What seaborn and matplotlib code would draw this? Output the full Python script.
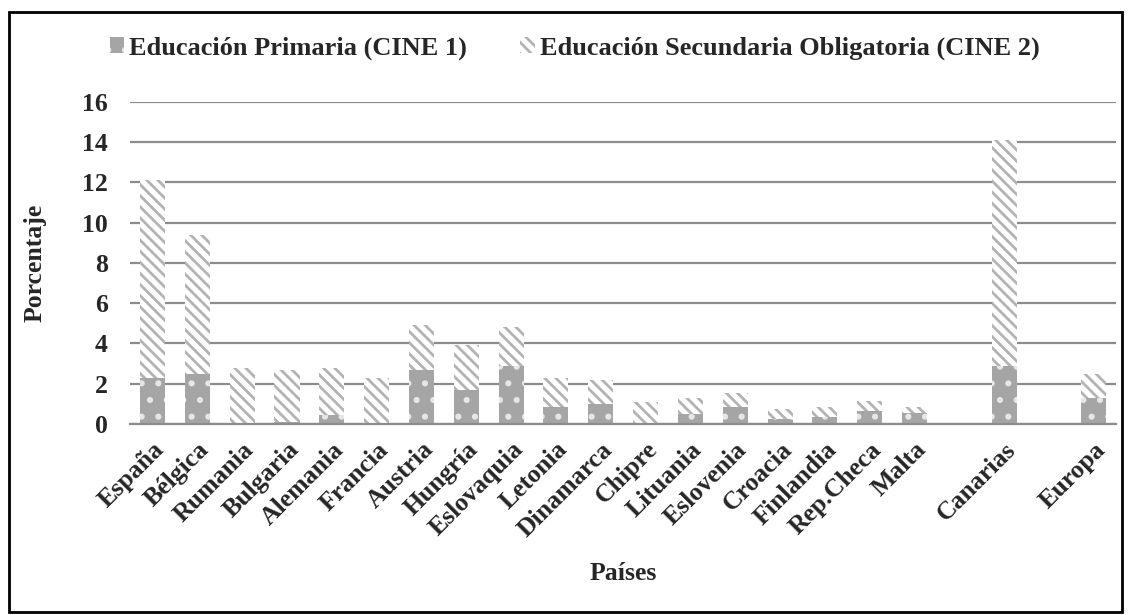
import seaborn as sns
import pandas as pd
import matplotlib.pyplot as plt
from matplotlib.patches import Patch, Rectangle

countries = ["España", "Bélgica", "Rumania", "Bulgaria", "Alemania", "Francia", "Austria",
             "Hungría", "Eslovaquia", "Letonia", "Dinamarca", "Chipre", "Lituania", "Eslovenia",
             "Croacia", "Finlandia", "Rep.Checa", "Malta", "Canarias", "Europa"]
primaria = [2.3, 2.5, 0.05, 0.1, 0.45, 0.05, 2.7, 1.7, 2.9, 0.85, 1.0, 0.05, 0.5, 0.85,
            0.25, 0.35, 0.65, 0.55, 2.9, 1.3]
secundaria = [9.8, 6.9, 2.75, 2.6, 2.35, 2.25, 2.2, 2.2, 1.9, 1.45, 1.2, 1.05, 0.8, 0.7,
              0.5, 0.5, 0.5, 0.3, 11.2, 1.2]
# empty slots between the countries, Canarias and Europa
order = countries[:18] + [" "] + ["Canarias"] + ["  "] + ["Europa"]
yticks = [0, 2, 4, 6, 8, 10, 12, 14, 16]

sns.set_theme(style="white")
plt.rcParams['font.family'] = ['Liberation Serif', 'DejaVu Serif']
plt.rcParams['font.weight'] = 'bold'
plt.rcParams['hatch.linewidth'] = 2.0

df = pd.DataFrame({"pais": countries, "prim": primaria, "sec": secundaria})
df["total"] = df["prim"] + df["sec"]

fig = plt.figure(figsize=(11.31, 6.15), dpi=100)
ax = fig.add_axes([0.115, 0.3106, 0.872, 0.5236])

ax.set_axisbelow(True)
ax.grid(axis="y", color="#8c8c8c", linewidth=1.6)

sns.barplot(data=df, x="pais", y="total", order=order, width=0.56, ax=ax,
            color="white", edgecolor="#b3b3b3", linewidth=0, hatch="\\\\\\")
sns.barplot(data=df, x="pais", y="prim", order=order, width=0.56, ax=ax,
            color="#a5a5a5", edgecolor="#e6e6e6", linewidth=0, hatch=".")
for p in ax.patches:
    p.set_alpha(1)

ax.set_ylim(0, 16)
ax.set_yticks(yticks)
ax.set_yticklabels([str(t) for t in yticks], fontsize=18.5, fontweight="bold")
ax.tick_params(axis="y", length=0, pad=16)
ax.set_xlim(-0.5, len(order) - 0.5)

ax.set_xticks(range(len(order)))
ax.set_xticklabels(order, rotation=45, ha="right", rotation_mode="anchor",
                   fontsize=18.5, fontweight="bold")
ax.tick_params(axis="x", length=0, pad=10)
ax.set_xticks([i - 0.5 for i in range(len(order) + 1)], minor=True)
ax.tick_params(axis="x", which="minor", length=7, width=1.5, color="#8c8c8c", direction="out")

for s in ["top", "right", "left"]:
    ax.spines[s].set_visible(False)
ax.spines["bottom"].set_color("#8c8c8c")
ax.spines["bottom"].set_linewidth(1.6)

ax.set_xlabel("")
ax.set_ylabel("")
fig.text(0.031, 0.572, "Porcentaje", rotation=90, ha="center", va="center",
         fontsize=18.5, fontweight="bold")
fig.text(0.551, 0.068, "Países", ha="center", va="center", fontsize=18.5, fontweight="bold")

handles = [Patch(facecolor="#a5a5a5", edgecolor="#e6e6e6", linewidth=0, hatch="."),
           Patch(facecolor="white", edgecolor="#b3b3b3", linewidth=0, hatch="\\\\\\")]
fig.legend(handles, ["Educación Primaria (CINE 1)", "Educación Secundaria Obligatoria (CINE 2)"],
           loc="center", bbox_to_anchor=(0.508, 0.922), ncol=2, frameon=False,
           prop={"family": "Liberation Serif", "weight": "bold", "size": 19},
           handlelength=0.55, handleheight=0.55, handletextpad=0.2, columnspacing=2.0)

fig.patches.append(Rectangle((0.008, 0.005), 0.984, 0.975, transform=fig.transFigure,
                             fill=False, edgecolor="black", linewidth=2))

fig.savefig("out.png", dpi=100)
